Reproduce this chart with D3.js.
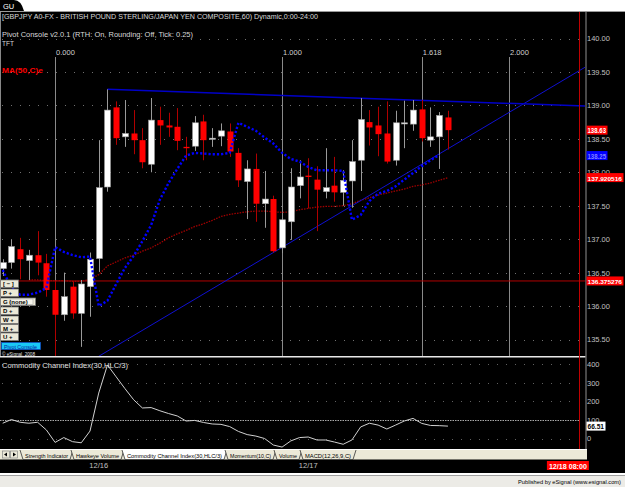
<!DOCTYPE html>
<html><head><meta charset="utf-8">
<script src="https://cdn.jsdelivr.net/npm/d3@7"></script>
<style>
html,body{margin:0;padding:0;background:#fff;overflow:hidden;}
svg{display:block;font-family:"Liberation Sans",Arial,sans-serif;}
</style></head><body>
<svg id="c" width="625" height="487"></svg>
<script>
// ---------------- DATA ----------------
const barNumbers = [0,1,2,3,4,5,6,7,8,9,10,11,12,13,14,15,16,17,18,19,20,21,22,23,24,25,26,27,28,29,30,31,32,33,34,35,36,37,38,39,40,41,42,43,44,45,46,47,48,49,50,51];
const openP  = [136.56,136.65,136.85,136.68,136.76,136.64,136.24,135.87,136.29,135.89,136.29,136.71,137.78,138.97,138.53,138.58,138.48,138.12,138.78,138.70,138.68,138.38,138.39,138.76,138.50,138.54,138.61,138.29,137.86,138.05,137.53,137.60,136.87,137.26,137.80,137.95,137.89,137.71,137.80,137.70,137.87,138.18,138.75,138.70,138.58,138.18,138.73,138.72,138.94,138.48,138.53,138.82];
const highP  = [136.70,136.99,137.02,136.84,137.12,136.78,136.38,136.50,136.37,136.39,136.80,138.48,139.24,139.06,139.08,138.93,138.66,139.11,138.98,138.89,138.96,138.53,138.84,138.86,138.66,138.73,138.73,138.36,138.18,138.28,138.02,137.65,137.31,138.06,138.18,138.21,138.09,138.36,138.23,138.03,138.48,139.11,138.93,138.98,139.06,138.92,139.07,139.08,139.08,138.97,138.90,138.92];
const lowP   = [136.45,136.56,136.40,136.39,136.46,136.14,135.20,135.78,135.81,135.39,135.84,136.51,137.71,138.41,138.38,138.27,138.06,138.00,138.41,138.53,138.33,138.18,138.32,138.18,138.38,138.39,138.23,137.78,137.30,137.26,137.17,136.80,136.79,136.99,137.61,137.46,137.12,137.61,137.56,137.50,137.47,137.72,138.40,138.24,138.13,138.10,138.36,138.62,138.46,138.38,138.05,138.34];
const closeP = [136.65,136.89,136.70,136.76,136.65,136.24,135.87,136.14,135.89,136.33,136.70,137.77,138.93,138.51,138.58,138.48,138.15,138.78,138.70,138.67,138.47,138.36,138.74,138.48,138.51,138.62,138.31,137.88,138.05,137.53,137.60,136.82,137.29,137.78,137.93,137.93,137.74,137.77,137.70,137.88,138.16,138.79,138.67,138.57,138.16,138.74,138.74,138.93,138.51,138.53,138.85,138.63];
// blue dotted study (per bar)
const pivotStudy = [136.54,136.27,136.17,136.17,136.20,136.27,136.88,136.81,136.76,136.73,136.74,136.00,136.08,136.33,136.57,136.75,136.97,137.21,137.59,137.84,138.05,138.25,138.29,138.28,138.27,138.27,138.29,138.74,138.68,138.62,138.52,138.43,138.29,138.20,138.16,138.08,138.03,138.03,138.03,138.02,137.29,137.36,137.57,137.68,137.72,137.79,137.89,137.99,138.09,138.18,138.26];
// MA(50,C)
const ma50 = [null,null,null,136.39,136.39,136.38,136.38,136.38,136.37,136.37,136.40,136.47,136.60,136.66,136.72,136.76,136.82,136.87,136.94,137.02,137.08,137.13,137.19,137.23,137.28,137.34,137.37,137.39,137.41,137.42,137.42,137.41,137.40,137.41,137.44,137.46,137.48,137.49,137.49,137.50,137.53,137.58,137.62,137.66,137.69,137.72,137.75,137.79,137.81,137.84,137.88,137.92];
// CCI(30,HLC/3)
const cciValues = [82,102,87,82,87,46,-21,5,-17,-23,40,244,395,331,268,208,164,166,149,134,121,94,97,86,78,76,64,38,21,13,0,-35,-46,-13,5,8,-8,-8,-19,-31,-8,62,82,72,51,72,94,108,81,70,69,66.51];
// trend lines [bar, price]
const upperTrend = [[12,139.24],[66.7,138.99]];
const lowerTrend = [[10.5,135.21],[66.7,139.57]];
// fib time zones
const fibLabels = ["0.000","1.000","1.618","2.000"];
const fibBars = [6,32,48,58];
// axes
const priceTicks = [140.00,139.50,139.00,138.50,138.00,137.50,137.00,136.50,136.00,135.50];
const cciTicks = [400,300,200,100,0];
const dateLabels = ["12/16","12/17"];
const dateBars = [11,35];
const cursorBar = 66;
const cursorLabel = "12/18 08:00";
const lastClose = 138.63, lastStudy = 138.25, lastMA = 137.920516, pivotLevel = 136.375276;
const tabNames = ["Strength Indicator","Hawkeye Volume","Commodity Channel Index(30,HLC/3)","Momentum(10,C)","Volume","MACD(12,26,9,C)"];
const buttonLabels = ["[ − ]","P  +","G  (none)","D  +","W  +","M  +","U  +"];

// ---------------- SCALES ----------------
const svg = d3.select("#c");
const W = 625, H = 487;
const plotR = 585.5;
const x = d3.scaleLinear().domain([0, 66]).range([2.7, 578.9]);
const y = d3.scaleLinear().domain([135.5, 140]).range([339.5, 38.5]);
const yc = d3.scaleLinear().domain([0, 400]).range([438.5, 364]);

// ---------------- FRAME ----------------
svg.append("rect").attr("width",W).attr("height",H).attr("fill","#fff");
svg.append("rect").attr("x",0).attr("y",11).attr("width",W).attr("height",462).attr("fill","#000");
svg.append("line").attr("x1",0).attr("x2",W).attr("y1",11.5).attr("y2",11.5).attr("stroke","#9a9a9a");
svg.append("path").attr("d","M0,0 H14 Q21,0 24,11 H0 Z").attr("fill","#000");
svg.append("text").attr("x",3).attr("y",8.5).attr("fill","#fff").attr("font-size",7.5).text("GU");

const defs = svg.append("defs");
defs.append("clipPath").attr("id","clipMain").append("rect").attr("x",0).attr("y",12).attr("width",plotR).attr("height",344);
defs.append("clipPath").attr("id","clipCci").append("rect").attr("x",0).attr("y",358).attr("width",plotR).attr("height",90);

svg.append("line").attr("x1",0.5).attr("x2",0.5).attr("y1",12).attr("y2",356).attr("stroke","#888");

// ---------------- MAIN PANEL ----------------
const gMain = svg.append("g").attr("clip-path","url(#clipMain)");
gMain.selectAll("line.grid").data(priceTicks).join("line")
  .attr("x1",2).attr("x2",plotR-6).attr("y1",d=>Math.round(y(d))+0.5).attr("y2",d=>Math.round(y(d))+0.5)
  .attr("stroke","#707070").attr("stroke-width",1).attr("stroke-dasharray","1,8");
gMain.selectAll("line.fib").data(fibBars).join("line")
  .attr("x1",d=>Math.round(x(d))+0.5).attr("x2",d=>Math.round(x(d))+0.5).attr("y1",57).attr("y2",356)
  .attr("stroke","#8a8a8a").attr("stroke-width",1);
svg.selectAll("text.fib").data(fibBars).join("text")
  .attr("x",d=>x(d)+1).attr("y",54.5).attr("fill","#d0d0d0").attr("font-size",7.5)
  .text((d,i)=>fibLabels[i]);
gMain.append("line").attr("x1",0).attr("x2",plotR).attr("y1",y(pivotLevel)).attr("y2",y(pivotLevel))
  .attr("stroke","#b00000").attr("stroke-width",1);
const maLine = d3.line().defined(d=>d!=null).x((d,i)=>x(i)).y(d=>y(d));
gMain.append("path").attr("d",maLine(ma50)).attr("fill","none").attr("stroke","#a00000")
  .attr("stroke-width",1.3).attr("stroke-dasharray","1.5,1.2");
const tl = d3.line().x(d=>x(d[0])).y(d=>y(d[1]));
gMain.append("path").attr("d",tl(lowerTrend)).attr("fill","none").attr("stroke","#1010d0").attr("stroke-width",1);
gMain.append("path").attr("d",tl(upperTrend)).attr("fill","none").attr("stroke","#0000c8").attr("stroke-width",1.5);
const cg = gMain.append("g");
barNumbers.forEach(i=>{
  const up = closeP[i] >= openP[i];
  const cx = Math.round(x(i))+0.5;
  cg.append("line").attr("x1",cx).attr("x2",cx).attr("y1",y(highP[i])).attr("y2",y(lowP[i]))
    .attr("stroke", up ? "#9a9a9a" : "#b00000").attr("stroke-width",1);
  const t = y(Math.max(openP[i],closeP[i])), b = y(Math.min(openP[i],closeP[i]));
  cg.append("rect").attr("x",cx-3).attr("width",6).attr("y",t).attr("height",Math.max(1.2,b-t))
    .attr("fill", up ? "#ffffff" : "#ff0000")
    .attr("stroke", up ? "#9a9a9a" : "none").attr("stroke-width",0.6);
});
const sl = d3.line().x((d,i)=>x(i)).y(d=>y(d));
gMain.append("path").attr("d",sl(pivotStudy)).attr("fill","none").attr("stroke","#0000ff")
  .attr("stroke-width",2.4).attr("stroke-dasharray","2.2,2");

function txt(xp, yp, s, size, color, len, weight){
  const t = svg.append("text").attr("x",xp).attr("y",yp).attr("fill",color).attr("font-size",size).text(s);
  if(len) t.attr("textLength",len).attr("lengthAdjust","spacingAndGlyphs");
  if(weight) t.attr("font-weight",weight);
  return t;
}
txt(2,19,"[GBPJPY A0-FX - BRITISH POUND STERLING/JAPAN YEN COMPOSITE,60) Dynamic,0:00-24:00",8,"#d8d8d8",316);
txt(2,37,"Pivot Console v2.0.1 (RTH: On, Rounding: Off, Tick: 0.25)",8,"#d8d8d8",191);
txt(2,45.5,"TFT",8,"#d8d8d8",12);
txt(2,72.5,"MA(50,C)e",8,"#ff0000",41,"bold");

const btnY = [280,289,298,307,316,324.5,333];
buttonLabels.forEach((s,i)=>{
  const w = i===2 ? 35 : 18;
  svg.append("rect").attr("x",0.5).attr("y",btnY[i]).attr("width",w).attr("height",7.5)
    .attr("fill","#ece9d8").attr("stroke","#7a7a7a").attr("stroke-width",0.8);
  if(i===2){
    svg.append("rect").attr("x",10).attr("y",btnY[i]+1).attr("width",23).attr("height",5.5)
      .attr("fill","#f6f4ea").attr("stroke","#9a9a9a").attr("stroke-width",0.5);
  }
  txt(3,btnY[i]+6,s,6,"#000",null,"bold");
});
svg.append("rect").attr("x",1.5).attr("y",342.5).attr("width",39).attr("height",7).attr("fill","#19c8f5").attr("stroke","#1050c0").attr("stroke-width",0.8);
txt(4,348.5,"Pivot Console",6,"#0820a0",33);
txt(2,355.5,"© eSignal, 2008",5.5,"#e0e0e0",33);

svg.append("line").attr("x1",0).attr("x2",plotR).attr("y1",356.5).attr("y2",356.5).attr("stroke","#e8e8e8").attr("stroke-width",1);
svg.append("line").attr("x1",0).attr("x2",plotR).attr("y1",357.5).attr("y2",357.5).attr("stroke","#777").attr("stroke-width",1);

// ---------------- CCI PANEL ----------------
const gC = svg.append("g").attr("clip-path","url(#clipCci)");
gC.selectAll("line.cg").data(cciTicks.filter(d=>d!==100)).join("line")
  .attr("x1",2).attr("x2",plotR-8).attr("y1",d=>Math.round(yc(d))+0.5).attr("y2",d=>Math.round(yc(d))+0.5)
  .attr("stroke","#606060").attr("stroke-dasharray","1,8");
gC.append("line").attr("x1",0).attr("x2",plotR-6).attr("y1",Math.round(yc(100))+0.5).attr("y2",Math.round(yc(100))+0.5)
  .attr("stroke","#a8a8a8").attr("stroke-dasharray","1.5,1");
const cl = d3.line().x((d,i)=>x(i)).y(d=>yc(d));
gC.append("path").attr("d",cl(cciValues)).attr("fill","none").attr("stroke","#d0d0d0").attr("stroke-width",1);
txt(2,368,"Commodity Channel Index(30,HLC/3)",7.5,"#e0e0e0",126);

svg.append("line").attr("x1",Math.round(x(cursorBar))+0.5).attr("x2",Math.round(x(cursorBar))+0.5)
  .attr("y1",12).attr("y2",449).attr("stroke","#c00000").attr("stroke-width",1);
svg.append("line").attr("x1",plotR+0.5).attr("x2",plotR+0.5).attr("y1",12).attr("y2",449).attr("stroke","#909090");

// ---------------- AXES ----------------
const axP = d3.axisRight(y).tickValues(priceTicks).tickSize(0).tickPadding(1.5).tickFormat(d3.format(".2f"));
const gAxP = svg.append("g").attr("transform",`translate(${plotR},0)`).call(axP);
gAxP.select(".domain").remove();
gAxP.selectAll("text").attr("fill","#c0c0c0").attr("font-size",7.5).attr("font-family","Liberation Sans, Arial, sans-serif");

const axC = d3.axisRight(yc).tickValues(cciTicks).tickSize(0).tickPadding(1.5).tickFormat(d3.format("d"));
const gAxC = svg.append("g").attr("transform",`translate(${plotR},0)`).call(axC);
gAxC.select(".domain").remove();
gAxC.selectAll("text").attr("fill","#c0c0c0").attr("font-size",7.5).attr("font-family","Liberation Sans, Arial, sans-serif");

function marker(yp, label, bg, fg, w, fs){
  svg.append("rect").attr("x",plotR+1).attr("y",yp-4.5).attr("width",w).attr("height",9).attr("fill",bg);
  txt(plotR+2,yp+3,label,fs,fg,w-2.5,"bold");
}
marker(y(lastClose), lastClose.toFixed(2), "#ff0000", "#ffffff", 21, 7);
marker(y(lastStudy), lastStudy.toFixed(2), "#0000ff", "#8080ff", 21, 7);
marker(y(lastMA), String(lastMA), "#ff0000", "#ffffff", 37, 6);
marker(y(pivotLevel), String(pivotLevel), "#ff0000", "#ffffff", 37, 6);
marker(yc(cciValues[cciValues.length-1]), cciValues[cciValues.length-1].toFixed(2), "#ffffff", "#000000", 19, 6.5);

// ---------------- TAB BAR ----------------
svg.append("rect").attr("x",0).attr("y",449.5).attr("width",587).attr("height",10).attr("fill","#ece9d8");
svg.append("line").attr("x1",0).attr("x2",587).attr("y1",449.5).attr("y2",449.5).attr("stroke","#fff");
[2,10].forEach(bx=>{
  svg.append("rect").attr("x",bx+0.5).attr("y",451).attr("width",7).attr("height",7).attr("fill","#ece9d8").attr("stroke","#888").attr("stroke-width",0.7);
});
svg.append("path").attr("d","M7,452.5 L4,454.5 L7,456.5 Z").attr("fill","#000");
svg.append("path").attr("d","M13,452.5 L16,454.5 L13,456.5 Z").attr("fill","#000");
const tabStarts = [20,71,122,225,274,300];
const tabEnds = [73,124,227,276,302,356];
tabNames.forEach((s,i)=>{
  const a = tabStarts[i], b = tabEnds[i];
  const active = i===2;
  svg.append("path").attr("d",`M${a},450 L${a+3},459.5 L${b-3},459.5 L${b},450`)
    .attr("fill",active?"#ffffff":"#ece9d8").attr("stroke","#333").attr("stroke-width",0.8);
  txt(a+5,457.5,s,5.5,"#000",b-a-10);
});
svg.selectAll("text.date").data(dateBars).join("text")
  .attr("x",d=>x(d)).attr("y",468).attr("text-anchor","middle").attr("fill","#c0c0c0").attr("font-size",7.5)
  .text((d,i)=>dateLabels[i]);
svg.append("rect").attr("x",x(cursorBar)-32).attr("y",461).attr("width",42).attr("height",9).attr("fill","#ff0000");
txt(x(cursorBar)-30,468.5,cursorLabel,7,"#fff",38,"bold");

// ---------------- STATUS BAR ----------------
svg.append("rect").attr("x",0).attr("y",473).attr("width",W).attr("height",2).attr("fill","#fff");
svg.append("rect").attr("x",0).attr("y",475).attr("width",W).attr("height",12).attr("fill","#ecebe6");
svg.append("line").attr("x1",0).attr("x2",W).attr("y1",475.5).attr("y2",475.5).attr("stroke","#a0a0a0");
txt(518,484,"Published by eSignal (www.esignal.com)",5.5,"#000",103);
</script>
</body></html>
